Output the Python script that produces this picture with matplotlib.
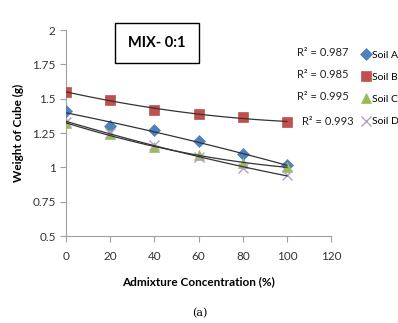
import matplotlib.pyplot as plt
import numpy as np

plt.rcParams['font.family'] = ['Lato', 'DejaVu Sans']

# admixture concentration (%) and cube weights (g)
conc = [0, 20, 40, 60, 80, 100]
soil_a = [1.41, 1.30, 1.275, 1.19, 1.095, 1.015]
soil_b = [1.55, 1.49, 1.42, 1.39, 1.365, 1.33]
soil_c = [1.32, 1.24, 1.15, 1.09, 1.03, 1.005]
soil_d = [1.33, 1.25, 1.165, 1.075, 0.995, 0.945]
names = ['Soil A', 'Soil B', 'Soil C', 'Soil D']
r2_labels = ['R² = 0.987', 'R² = 0.985', 'R² = 0.995', 'R² = 0.993']

series = [soil_a, soil_b, soil_c, soil_d]
colors = ['#4F81BD', '#C0504D', '#9BBB59', '#B3A2C7']
markers = ['D', 's', '^', 'x']
msizes = [6, 7.5, 6.5, 7]

fig = plt.figure(figsize=(3.98, 3.23), dpi=100)
ax = fig.add_axes([0.166, 0.269, 0.666, 0.638])

xs = np.linspace(0, 100, 100)
handles = []
for vals, c, m, ms, name in zip(series, colors, markers, msizes, names):
    h, = ax.plot(conc, vals, linestyle='none', marker=m, color=c, markersize=ms,
                 markeredgewidth=1 if m == 'x' else 0.5, label=name, zorder=3)
    handles.append(h)
    coef = np.polyfit(conc, vals, 2)
    ax.plot(xs, np.polyval(coef, xs), color='#333333', lw=0.9, zorder=4)

ax.set_xlim(0, 120)
ax.set_ylim(0.5, 2)
ax.set_xticks([0, 20, 40, 60, 80, 100, 120])
ax.set_yticks([0.5, 0.75, 1, 1.25, 1.5, 1.75, 2])
ax.set_yticklabels(['0.5', '0.75', '1', '1.25', '1.5', '1.75', '2'])
for s in ['top', 'right']:
    ax.spines[s].set_visible(False)
for s in ['left', 'bottom']:
    ax.spines[s].set_color('#a0a0a0')
ax.tick_params(colors='#a0a0a0', labelcolor='#333333', labelsize=8.5, length=4)
ax.tick_params(axis='x', pad=7)

ax.set_xlabel('Admixture Concentration (%)', fontsize=8.5, fontweight='bold', labelpad=10)
ax.set_ylabel('Weight of Cube (g)', fontsize=8.5, fontweight='bold', labelpad=6)

fig.text(157 / 398, 1 - 43 / 323, 'MIX- 0:1', fontsize=10.5, fontweight='bold',
         ha='center', va='center',
         bbox=dict(boxstyle='square,pad=0.9', fc='white', ec='black', lw=1))

ax.legend(handles=handles, loc='upper left', bbox_to_anchor=(357 / 398, 1 - 45 / 323),
          bbox_transform=fig.transFigure, frameon=False, fontsize=7.5,
          handlelength=0.7, handletextpad=0.2, labelspacing=1.25, borderpad=0)

r2_pos = [(323, 52), (323, 74), (323, 97), (328, 122)]
for (px, py), lab in zip(r2_pos, r2_labels):
    fig.text(px / 398, 1 - py / 323, lab, fontsize=8, ha='center', va='center', color='#222222')

fig.text(200 / 398, 1 - 313 / 323, '(a)', fontsize=8, family='DejaVu Serif',
         ha='center', va='center')

fig.savefig('out.png', dpi=100)
